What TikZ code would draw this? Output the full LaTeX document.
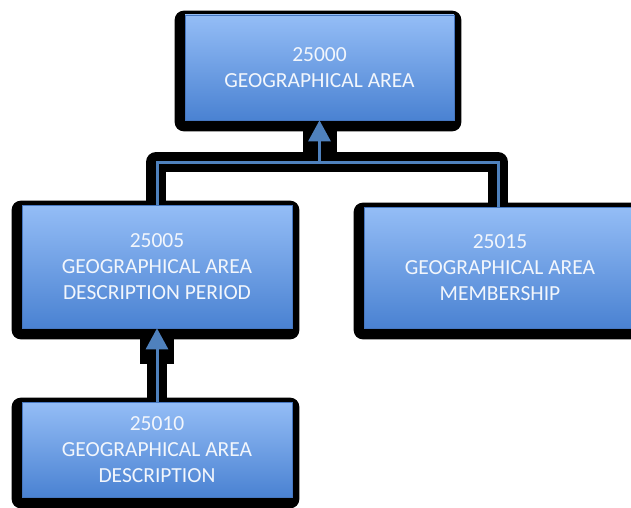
\documentclass[tikz,border=0pt]{standalone}
\usepackage{fontspec}
\setmainfont{Carlito}
\usetikzlibrary{arrows.meta,backgrounds}
\definecolor{boxtop}{HTML}{94BDF6}
\definecolor{boxbot}{HTML}{4A82D2}
\definecolor{boxline}{HTML}{4677C0}
\definecolor{conn}{HTML}{4F81BD}
\definecolor{boxtext}{HTML}{F2F6FC}
\tikzset{
  box/.style={rectangle, top color=boxtop, bottom color=boxbot, draw=boxline, line width=0.6pt,
    text=boxtext, align=center, font=\fontsize{21.5}{26}\selectfont, inner sep=0pt},
  halo/.style={draw=black, line width=20pt, line join=round},
  blob/.style={draw=black, line width=34pt},
  conline/.style={draw=conn, line width=3pt},
  conarrow/.style={draw=conn, line width=3pt, -{Triangle[length=21pt,width=22pt]}},
}
\begin{document}
\begin{tikzpicture}[x=1pt,y={(0pt,-1pt)}]
\clip (0,0) rectangle (631,508);
% boxes
\node[box, minimum width=269pt, minimum height=105pt] (top) at (319.5,67.5) {25000\\GEOGRAPHICAL AREA};
\node[box, minimum width=270pt, minimum height=123pt] (left) at (157,266.5) {25005\\GEOGRAPHICAL AREA\\DESCRIPTION PERIOD};
\node[box, minimum width=272pt, minimum height=121pt] (right) at (500,267.5) {25015\\GEOGRAPHICAL AREA\\MEMBERSHIP};
\node[box, minimum width=270pt, minimum height=95pt] (bottom) at (157,449.5) {25010\\GEOGRAPHICAL AREA\\DESCRIPTION};
\coordinate (j) at (319.5,162);
\begin{scope}[on background layer]
  \fill[white] (0,0) rectangle (631,508);
  \foreach \n in {top,left,right,bottom}{
    \fill[black, rounded corners=9pt] ([shift={(-10pt,4pt)}]\n.north west) rectangle ([shift={(7pt,-11pt)}]\n.south east);
  }
  % connector halos
  \begin{scope}[yshift=-6pt]
    \draw[halo] ([xshift=-1pt]left.north) -- ([xshift=-1pt]left.north |- j) -- ([xshift=-2pt]right.north |- j) -- ([xshift=-2pt]right.north);
    \draw[halo] (j) -- (top.south);
    \draw[halo] (bottom.north) -- (left.south);
  \end{scope}
  \draw[blob] (top.south) -- ([yshift=-34pt]top.south);
  \draw[blob] (left.south) -- ([yshift=-36pt]left.south);
\end{scope}
% connectors
\draw[conline] (left.north) -- (left.north |- j) -- ([xshift=-2pt]right.north |- j) -- ([xshift=-2pt]right.north);
\draw[conarrow] (j) -- (top.south);
\draw[conarrow] (bottom.north) -- (left.south);
\end{tikzpicture}
\end{document}
